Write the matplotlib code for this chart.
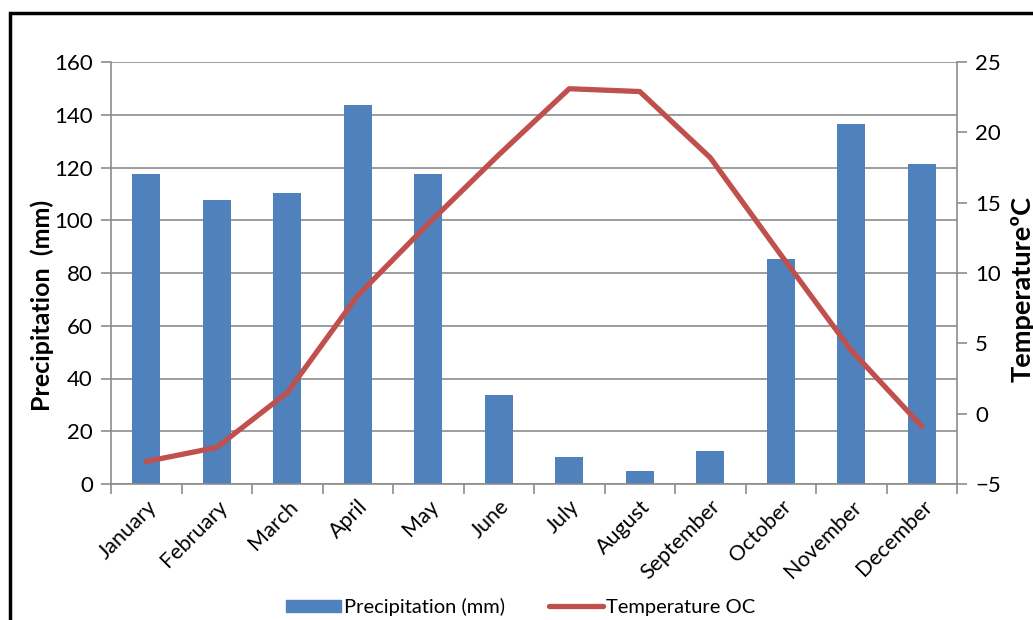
import matplotlib
matplotlib.use("Agg")
import matplotlib.pyplot as plt
from matplotlib.patches import Rectangle
from matplotlib.lines import Line2D

months = ["January", "February", "March", "April", "May", "June", "July",
          "August", "September", "October", "November", "December"]
precipitation = [117.5, 107.7, 110.3, 143.7, 117.5, 33.7, 10.2, 4.9, 12.5, 85.3, 136.5, 121.3]
temperature = [-3.4, -2.4, 1.5, 8.4, 13.5, 18.4, 23.1, 22.9, 18.2, 11.3, 4.5, -0.9]

precip_ticks = [0, 20, 40, 60, 80, 100, 120, 140, 160]
temp_ticks = [-5, 0, 5, 10, 15, 20, 25]

bar_color = "#4F81BD"
line_color = "#C0504D"
grid_color = "#8C8C8C"

plt.rcParams["font.family"] = ["Lato", "DejaVu Sans"]

fig = plt.figure(figsize=(10.33, 6.2), dpi=100)
ax = fig.add_axes([111 / 1033, 1 - 484 / 620, 846 / 1033, 422 / 620])
ax2 = ax.twinx()

x = list(range(len(months)))
ax.bar(x, precipitation, width=0.4, color=bar_color, zorder=2,
       label="Precipitation (mm)")
ax2.plot(x, temperature, color=line_color, lw=3.8, solid_capstyle="round",
         solid_joinstyle="round", zorder=3, label="Temperature OC")

ax.set_xlim(-0.5, len(months) - 0.5)
ax.set_ylim(0, 160)
ax2.set_ylim(-5, 25)
ax.set_yticks(precip_ticks)
ax2.set_yticks(temp_ticks)

# category boundaries carry the tick marks, centres carry the labels
ax.set_xticks([i - 0.5 for i in range(len(months) + 1)], minor=False)
ax.set_xticklabels([])
ax.set_xticks(x, minor=True)
ax.set_xticklabels(months, minor=True, rotation=45, ha="right",
                   rotation_mode="anchor", fontsize=15.5)
ax.tick_params(axis="x", which="minor", length=0, pad=9)
ax.tick_params(axis="x", which="major", length=7, color=grid_color, width=1.2)
ax.tick_params(axis="y", length=7, color=grid_color, width=1.2, labelsize=16, pad=6)
ax2.tick_params(axis="y", length=7, color=grid_color, width=1.2, labelsize=16, pad=6)

ax.yaxis.grid(True, color=grid_color, lw=1.2, zorder=0)
ax.set_axisbelow(True)
for a in (ax, ax2):
    a.spines["top"].set_visible(False)
    for s in ("left", "right", "bottom"):
        a.spines[s].set_color(grid_color)
        a.spines[s].set_linewidth(1.2)
ax.spines["right"].set_visible(False)
ax2.spines["left"].set_visible(False)
ax2.spines["bottom"].set_visible(False)

ax.set_ylabel("Precipitation  (mm)", fontsize=18, fontweight="bold")
ax.yaxis.set_label_coords(-0.067, 0.424)
ax2.set_ylabel("TemperatureºC", fontsize=19.5, fontweight="bold")
ax2.yaxis.set_label_coords(1.063, 0.462)

handles = [Rectangle((0, 0), 1, 1, color=bar_color),
           Line2D([0], [0], color=line_color, lw=3.8, solid_capstyle="round")]
fig.legend(handles, ["Precipitation (mm)", "Temperature OC"],
           loc="center", bbox_to_anchor=(521 / 1033, 1 - 607 / 620),
           ncol=2, frameon=False, fontsize=14.5, handlelength=2.7,
           handleheight=0.6, handletextpad=0.15, columnspacing=2.2,
           borderpad=0)

# outer frame, running off the right and bottom edges
fig.patches.append(Rectangle((10 / 1033, -0.05), 1.1, 1 - 13 / 620 + 0.05,
                             transform=fig.transFigure, fill=False,
                             edgecolor="black", lw=2.5, clip_on=False))

fig.savefig("out.png", dpi=100)
